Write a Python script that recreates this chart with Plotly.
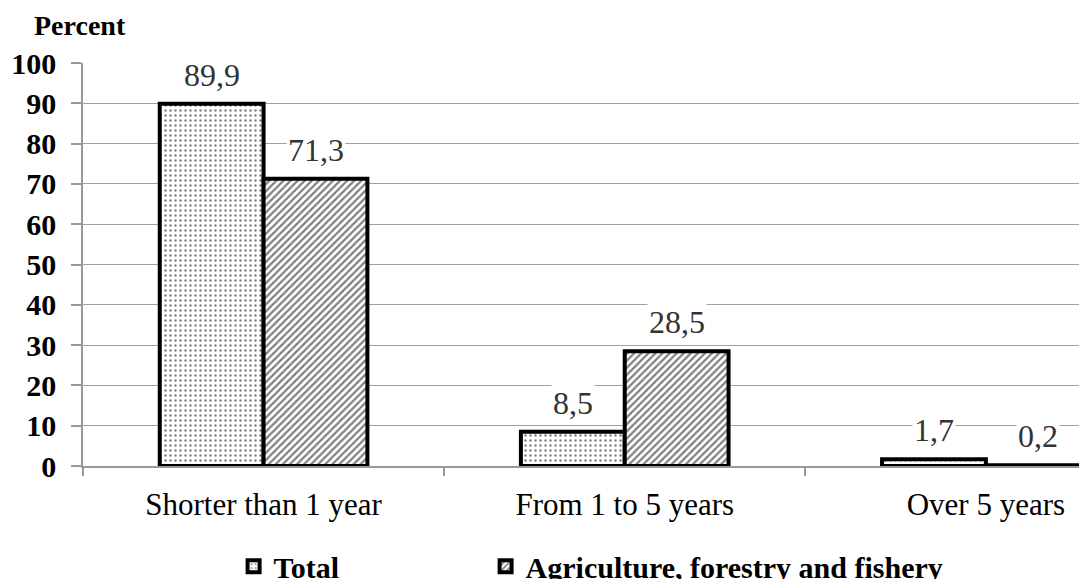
import plotly.graph_objects as go

categories = ["Shorter than 1 year", "From 1 to 5 years", "Over 5 years"]
total = [89.9, 8.5, 1.7]
agri = [71.3, 28.5, 0.2]
total_labels = ["89,9", "8,5", "1,7"]
agri_labels = ["71,3", "28,5", "0,2"]
yticks = [0, 10, 20, 30, 40, 50, 60, 70, 80, 90, 100]

SERIF = "Liberation Serif"

fig = go.Figure()
fig.add_trace(go.Bar(
    name="Total", x=categories, y=total, legend="legend",
    marker=dict(color="white", line=dict(color="black", width=4),
                pattern=dict(shape=".", fgcolor="black", bgcolor="white", size=5, solidity=0.18)),
))
fig.add_trace(go.Bar(
    name="Agriculture, forestry and fishery", x=categories, y=agri, legend="legend2",
    marker=dict(color="white", line=dict(color="black", width=4),
                pattern=dict(shape="/", fgcolor="black", bgcolor="white", size=5, solidity=0.45)),
))

annotations = []
for i, (v, t) in enumerate(zip(total, total_labels)):
    annotations.append(dict(x=i - 0.144, y=v, xref="x", yref="y", text=t, showarrow=False,
                            yanchor="bottom", yshift=9, bgcolor="white",
                            font=dict(family=SERIF, size=32, color="#333")))
for i, (v, t) in enumerate(zip(agri, agri_labels)):
    annotations.append(dict(x=i + 0.144, y=v, xref="x", yref="y", text=t, showarrow=False,
                            yanchor="bottom", yshift=9, bgcolor="white",
                            font=dict(family=SERIF, size=32, color="#333")))
annotations.append(dict(x=-0.0508, y=1.092, xref="paper", yref="paper", text="Percent",
                        showarrow=False, xanchor="left", yanchor="middle",
                        font=dict(family=SERIF, size=28, color="black", weight="bold")))

legend_font = dict(family=SERIF, size=30, color="black", weight="bold")
fig.update_layout(
    width=1087, height=579,
    margin=dict(l=75, r=8, t=55, b=121, autoexpand=False),
    paper_bgcolor="white", plot_bgcolor="white",
    barmode="group", bargap=0.425, bargroupgap=0,
    showlegend=True,
    legend=dict(orientation="h", x=0.150, y=0.036, xref="paper", yref="container",
                xanchor="left", yanchor="middle", font=legend_font, bgcolor="rgba(0,0,0,0)"),
    legend2=dict(orientation="h", x=0.401, y=0.036, xref="paper", yref="container",
                 xanchor="left", yanchor="middle", font=legend_font, bgcolor="rgba(0,0,0,0)"),
    annotations=annotations,
    xaxis=dict(type="category", range=[-0.5, 2.28], showline=True, linecolor="#999", linewidth=1.5,
               ticks="outside", tickson="boundaries", ticklen=8, tickcolor="#999", tickwidth=1.5,
               ticklabelstandoff=10, automargin=False,
               tickfont=dict(family=SERIF, size=31, color="black")),
    yaxis=dict(range=[0, 100], tickvals=yticks, showline=True, linecolor="#999", linewidth=1.5,
               ticks="outside", ticklen=10, tickcolor="#999", tickwidth=1.5, ticklabelstandoff=9,
               automargin=False,
               showgrid=True, gridcolor="#a0a0a0", gridwidth=1.2, zeroline=False,
               tickfont=dict(family=SERIF, size=30, color="black", weight="bold")),
)

fig.write_html("out.html")
